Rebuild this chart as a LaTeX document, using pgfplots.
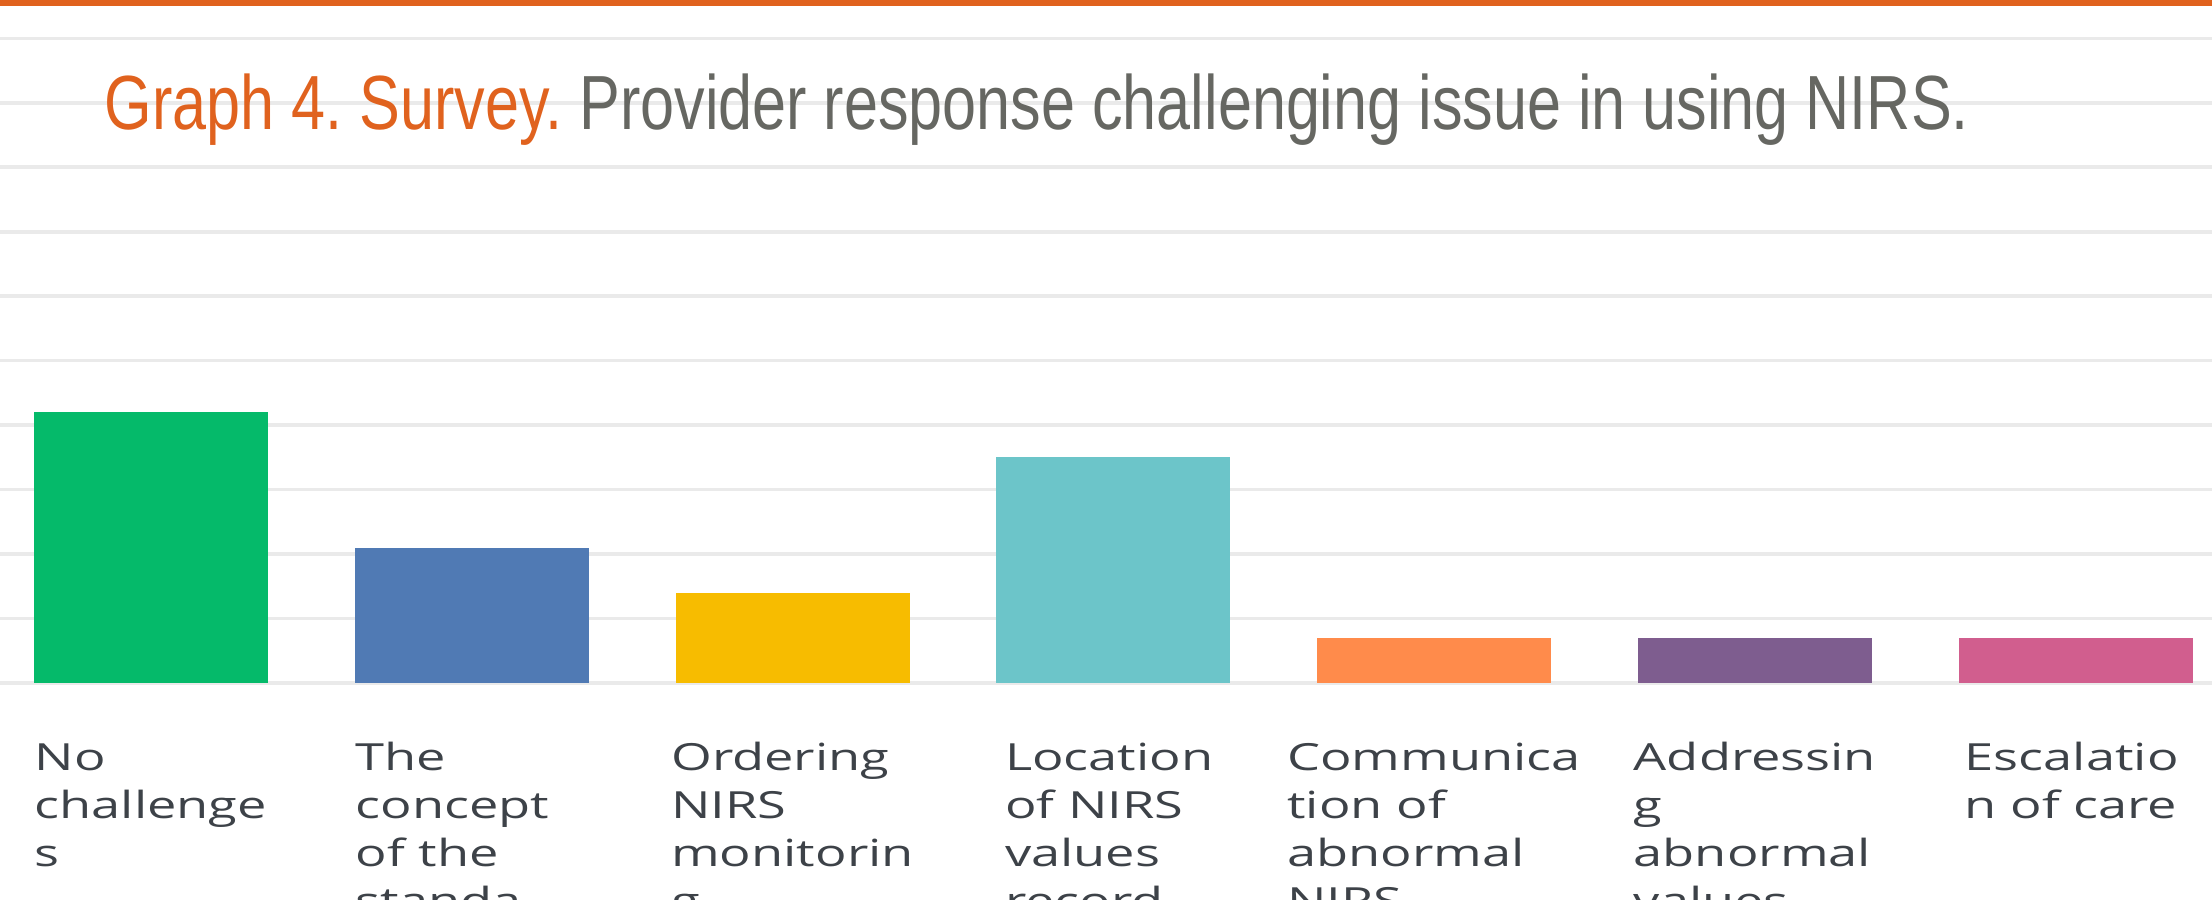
\documentclass[border=0pt]{standalone}
\usepackage{fontspec}
\usepackage{pgfplots}
\pgfplotsset{compat=1.18}
\newfontfamily\titlefont[FakeStretch=0.796]{Liberation Sans}
\newfontfamily\labelfont[FakeStretch=1.40]{Open Sans}
\definecolor{titleor}{HTML}{E0621E}
\definecolor{titlegr}{HTML}{666762}
\definecolor{gridc}{HTML}{EAEAEA}
\definecolor{basec}{HTML}{C4C4C4}
\definecolor{labc}{HTML}{3D4248}
\definecolor{b1}{HTML}{05BA6A}
\definecolor{b2}{HTML}{507AB4}
\definecolor{b3}{HTML}{F7BC00}
\definecolor{b4}{HTML}{6CC5C9}
\definecolor{b5}{HTML}{FF8B4B}
\definecolor{b6}{HTML}{7E5D8F}
\definecolor{b7}{HTML}{D15E8E}
\frenchspacing
\begin{document}
\begin{tikzpicture}
\useasboundingbox (0,-54pt) rectangle (553pt,170.75pt);
\clip (0,-54pt) rectangle (553pt,170.75pt);
\begin{axis}[
  at={(0,0)}, anchor=south west,
  scale only axis, width=553pt, height=170.75pt,
  xmin=-0.4704, xmax=6.4249, ymin=0, ymax=15.131,
  axis line style={draw=none},
  major tick length=0pt,
  xtick={0,1,2,3,4,5,6},
  xticklabels={{\strut No\\challenge\\s},{\strut The\\concept\rule{9.6pt}{0pt}\\of the\\standa},{\strut Ordering\\NIRS\\monitorin\\g},{\strut Location\rule{2pt}{0pt}\\of NIRS\\values\\record},{\strut Communica\\tion of\\abnormal\\NIRS},{\strut Addressin\\g\\abnormal\\values},{\strut Escalatio\rule{2pt}{0pt}\\n of care}},
  ytick={1.4282,2.8564,4.2846,5.7128,7.141,8.5692,9.9974,11.4256,12.8538,14.282},
  yticklabels={},
  ymajorgrids,
  major grid style={draw=gridc, line width=0.9pt},
  extra y ticks={0}, extra y tick labels={},
  extra y tick style={grid style={draw=basec, line width=0.8pt}},
  xticklabel style={anchor=north, align=left, inner sep=0pt, yshift=-13.2pt,
    font=\labelfont\fontsize{9.35}{12}\selectfont, text=labc},
  clip=false,
]
\addplot[ybar, bar shift=0pt, bar width=58.5pt, fill=b1, draw=none] coordinates {(0,6)};
\addplot[ybar, bar shift=0pt, bar width=58.5pt, fill=b2, draw=none] coordinates {(1,3)};
\addplot[ybar, bar shift=0pt, bar width=58.5pt, fill=b3, draw=none] coordinates {(2,2)};
\addplot[ybar, bar shift=0pt, bar width=58.5pt, fill=b4, draw=none] coordinates {(3,5)};
\addplot[ybar, bar shift=0pt, bar width=58.5pt, fill=b5, draw=none] coordinates {(4,1)};
\addplot[ybar, bar shift=0pt, bar width=58.5pt, fill=b6, draw=none] coordinates {(5,1)};
\addplot[ybar, bar shift=0pt, bar width=58.5pt, fill=b7, draw=none] coordinates {(6,1)};
\end{axis}
\fill[titleor] (0,169.3pt) rectangle (553pt,171pt);
\node[anchor=base west, inner sep=0pt, font=\titlefont\fontsize{19.2}{23}\selectfont] at (26pt,138.25pt)
  {\textcolor{titleor}{Graph 4. Survey.} \textcolor{titlegr}{Provider response challenging issue in using NIRS.}};
\end{tikzpicture}
\end{document}
